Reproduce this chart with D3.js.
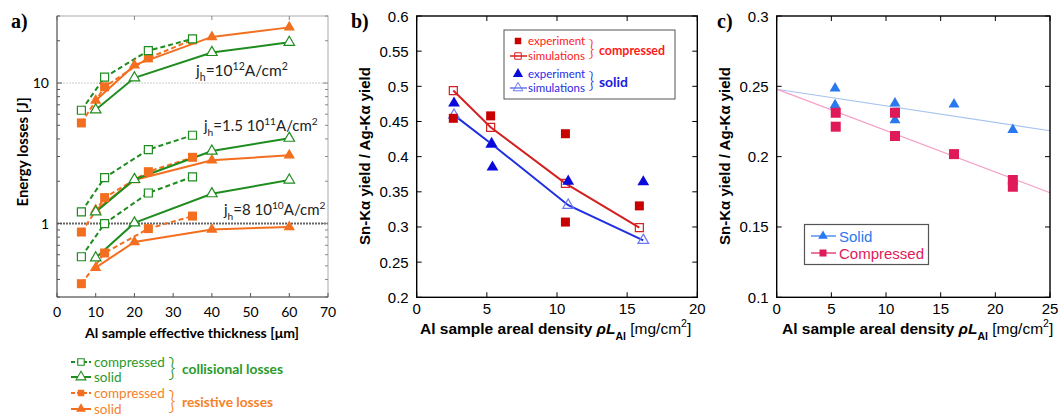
<!DOCTYPE html>
<html><head><meta charset="utf-8">
<script src="https://cdn.jsdelivr.net/npm/d3@7"></script>
<style>body{margin:0;background:#fff} svg{display:block}</style>
</head><body><svg id="fig" width="1058" height="418"></svg>
<script>
// ---- panel a: energy losses vs thickness ----
var thickComp = [6.3, 12.3, 23.6, 35];
var thickSolid = [10, 20, 40, 60];
var collComp12 = [6.4, 11.0, 17.0, 20.6];
var collSolid12 = [6.45, 10.9, 16.5, 19.5];
var resComp12 = [5.2, 9.4, 15.1, 20.3];
var resSolid12 = [7.5, 13.4, 21.3, 24.9];
var collComp15 = [1.21, 2.12, 3.36, 4.25];
var collSolid15 = [1.21, 2.06, 3.28, 4.05];
var resComp15 = [0.87, 1.53, 2.34, 2.96];
var resSolid15 = [1.25, 2.04, 2.82, 3.06];
var collComp8 = [0.58, 1.0, 1.65, 2.15];
var collSolid8 = [0.57, 1.01, 1.63, 2.04];
var resComp8 = [0.373, 0.617, 0.92, 1.13];
var resSolid8 = [0.485, 0.74, 0.906, 0.946];
var xTicksA = [0, 10, 20, 30, 40, 50, 60, 70];
var yLabelsA = [1, 10];

// ---- panel b: Sn/Ag yield ratio, experiment vs simulation ----
var compExpX = [2.61, 5.27, 10.6, 10.6, 15.87];
var compExpY = [0.4545, 0.458, 0.4326, 0.307, 0.330];
var solidExpX = [2.66, 5.34, 5.4, 10.8, 16.15];
var solidExpY = [0.476, 0.418, 0.385, 0.365, 0.364];
var compSimX = [2.61, 5.27, 10.6, 15.87];
var compSimY = [0.494, 0.4417, 0.362, 0.299];
var solidSimX = [2.66, 5.34, 10.8, 16.15];
var solidSimY = [0.459, 0.418, 0.331, 0.281];
var xTicksB = [0, 5, 10, 15, 20];
var yTicksB = [0.2, 0.25, 0.3, 0.35, 0.4, 0.45, 0.5, 0.55, 0.6];

// ---- panel c: yield ratio with linear fits ----
var solidCX = [5.34, 5.34, 10.82, 10.82, 16.22, 21.6];
var solidCY = [0.2486, 0.2367, 0.2379, 0.226, 0.2372, 0.219];
var compCX = [5.4, 5.4, 10.82, 10.82, 16.22, 21.6, 21.6];
var compCY = [0.2312, 0.2213, 0.2312, 0.2147, 0.2018, 0.1834, 0.1786];
var fitSolidC = [[0, 0.2479], [25, 0.2184]];
var fitCompC = [[0, 0.248], [25, 0.1743]];
var xTicksC = [0, 5, 10, 15, 20, 25];
var yTicksC = [0.1, 0.15, 0.2, 0.25, 0.3];

var green = "#1f8c1f", greenTxt = "#2a9a2a", orange = "#f36f1f", orangeTxt = "#f5822a";
var svg = d3.select("#fig");
var sq = d3.symbol().type(d3.symbolSquare), tri = d3.symbol().type(d3.symbolTriangle);

function rich(g, x, y, parts, size, attrs) {
  var t = g.append("text").attr("x", x).attr("y", y).attr("font-size", size);
  for (var k in attrs) t.attr(k, attrs[k]);
  var shift = 0;
  parts.forEach(function(p) {
    var target = p[1] == "sub" ? size * 0.3 : p[1] == "sup" ? -size * 0.38 : 0;
    var s = t.append("tspan").attr("dy", target - shift).text(p[0]);
    if (p[1]) s.attr("font-size", size * 0.68);
    if (p[2]) for (var a in p[2]) s.attr(a, p[2][a]);
    shift = target;
  });
  return t;
}

// ================= panel a =================
(function() {
  var fontA = "Lato, 'Open Sans', sans-serif";
  var x = d3.scaleLinear().domain([0, 70]).range([57, 328]);
  var y = d3.scaleLog().domain([0.3, 30]).range([297, 16]);
  var g = svg.append("g").attr("font-family", fontA);

  // frame
  g.append("rect").attr("x", x(0)).attr("y", y(30)).attr("width", x(70) - x(0)).attr("height", y(0.3) - y(30))
    .attr("fill", "none").attr("stroke", "#aaa").attr("stroke-width", 1);
  g.append("line").attr("x1", x(0)).attr("x2", x(70)).attr("y1", y(10)).attr("y2", y(10))
    .attr("stroke", "#ccc").attr("stroke-dasharray", "2,1");
  g.append("line").attr("x1", x(0)).attr("x2", x(70)).attr("y1", y(1)).attr("y2", y(1))
    .attr("stroke", "#666").attr("stroke-width", 2).attr("stroke-dasharray", "2,1");

  var ticks = y.ticks();
  ticks.forEach(function(v) {
    var len = (v == 1 || v == 10) ? 5 : 3;
    g.append("line").attr("x1", x(0)).attr("x2", x(0) + len).attr("y1", y(v)).attr("y2", y(v)).attr("stroke", "#555");
    g.append("line").attr("x1", x(70)).attr("x2", x(70) - len).attr("y1", y(v)).attr("y2", y(v)).attr("stroke", "#888");
  });
  xTicksA.forEach(function(v) {
    g.append("line").attr("x1", x(v)).attr("x2", x(v)).attr("y1", y(0.3)).attr("y2", y(0.3) - 4).attr("stroke", "#555");
    if (v % 20 == 0) g.append("line").attr("x1", x(v)).attr("x2", x(v)).attr("y1", y(30)).attr("y2", y(30) + 4).attr("stroke", "#888");
    g.append("text").attr("x", x(v)).attr("y", 317).attr("text-anchor", "middle").attr("font-size", 14).text(v);
  });
  g.append("line").attr("x1", x(0)).attr("x2", x(0)).attr("y1", y(30)).attr("y2", y(0.3)).attr("stroke", "#555");
  g.append("line").attr("x1", x(0)).attr("x2", x(70)).attr("y1", y(0.3)).attr("y2", y(0.3)).attr("stroke", "#555");
  yLabelsA.forEach(function(v) {
    g.append("text").attr("x", 49).attr("y", y(v) + 5).attr("text-anchor", "end").attr("font-size", 14).text(v);
  });

  var series = [
    {xs: thickComp, ys: resComp12, c: orange, dash: true, m: sq, fill: orange},
    {xs: thickSolid, ys: resSolid12, c: orange, dash: false, m: tri, fill: orange},
    {xs: thickComp, ys: resComp15, c: orange, dash: true, m: sq, fill: orange},
    {xs: thickSolid, ys: resSolid15, c: orange, dash: false, m: tri, fill: orange},
    {xs: thickComp, ys: resComp8, c: orange, dash: true, m: sq, fill: orange},
    {xs: thickSolid, ys: resSolid8, c: orange, dash: false, m: tri, fill: orange},
    {xs: thickComp, ys: collComp12, c: green, dash: true, m: sq, fill: "#fff"},
    {xs: thickSolid, ys: collSolid12, c: green, dash: false, m: tri, fill: "#fff"},
    {xs: thickComp, ys: collComp15, c: green, dash: true, m: sq, fill: "#fff"},
    {xs: thickSolid, ys: collSolid15, c: green, dash: false, m: tri, fill: "#fff"},
    {xs: thickComp, ys: collComp8, c: green, dash: true, m: sq, fill: "#fff"},
    {xs: thickSolid, ys: collSolid8, c: green, dash: false, m: tri, fill: "#fff"}
  ];
  var line = d3.line().x(function(d) { return x(d[0]); }).y(function(d) { return y(d[1]); });
  series.forEach(function(s) {
    var pts = d3.zip(s.xs, s.ys);
    g.append("path").attr("d", line(pts)).attr("fill", "none").attr("stroke", s.c).attr("stroke-width", 2)
      .attr("stroke-dasharray", s.dash ? "5,3" : null);
  });
  series.forEach(function(s) {
    var pts = d3.zip(s.xs, s.ys);
    var open = s.fill == "#fff";
    g.selectAll(null).data(pts).enter().append("path")
      .attr("d", s.m.size(s.m === sq ? (open ? 64 : 81) : (open ? 48 : 55)))
      .attr("transform", function(d) { return "translate(" + x(d[0]) + "," + y(d[1]) + ")"; })
      .attr("fill", s.fill).attr("stroke", s.c).attr("stroke-width", open ? 1.2 : 0);
  });

  // current density labels
  rich(g, 196, 76, [["j"], ["h", "sub"], ["=10"], ["12", "sup"], ["A/cm"], ["2", "sup"]], 15.5, {fill: "#222"});
  rich(g, 204, 131, [["j"], ["h", "sub"], ["=1.5 10"], ["11", "sup"], ["A/cm"], ["2", "sup"]], 15, {fill: "#222"});
  rich(g, 224, 215, [["j"], ["h", "sub"], ["=8 10"], ["10", "sup"], ["A/cm"], ["2", "sup"]], 15, {fill: "#222"});

  g.append("text").attr("x", 192).attr("y", 338).attr("text-anchor", "middle").attr("font-weight", "bold")
    .attr("font-size", 14).attr("textLength", 214).attr("lengthAdjust", "spacingAndGlyphs").text("Al sample effective thickness [\u03bcm]");
  g.append("text").attr("transform", "translate(28,152) rotate(-90)").attr("text-anchor", "middle").attr("font-weight", "bold")
    .attr("font-size", 15).text("Energy losses [J]");
  g.append("text").attr("x", 11).attr("y", 28).attr("font-family", "'Liberation Serif', serif").attr("font-weight", "bold")
    .attr("font-size", 20).text("a)");

  // legend
  var leg = [
    {y: 362, c: green, t: greenTxt, dash: true, m: sq, fill: "#fff", label: "compressed"},
    {y: 377, c: green, t: greenTxt, dash: false, m: tri, fill: "#fff", label: "solid"},
    {y: 393, c: orange, t: orangeTxt, dash: true, m: sq, fill: orange, label: "compressed"},
    {y: 409, c: orange, t: orangeTxt, dash: false, m: tri, fill: orange, label: "solid"}
  ];
  leg.forEach(function(l) {
    g.append("line").attr("x1", 71).attr("x2", 91).attr("y1", l.y).attr("y2", l.y).attr("stroke", l.c).attr("stroke-width", 2)
      .attr("stroke-dasharray", l.dash ? "4,2" : null);
    var open = l.fill == "#fff";
    g.append("path").attr("d", l.m.size(42)).attr("transform", "translate(81," + l.y + ")")
      .attr("fill", l.fill).attr("stroke", l.c).attr("stroke-width", open ? 1.1 : 0);
    g.append("text").attr("x", 94).attr("y", l.y + 5).attr("fill", l.t).attr("font-size", 13.5).text(l.label);
  });
  [[369, greenTxt, "collisional losses", 101], [402, orangeTxt, "resistive losses", 91]].forEach(function(b) {
    g.append("text").attr("x", 168).attr("y", b[0] + 8).attr("fill", b[1]).attr("font-size", 26).attr("font-weight", 300).text("}");
    g.append("text").attr("x", 182).attr("y", b[0] + 5).attr("fill", b[1]).attr("font-size", 14).attr("font-weight", "bold")
      .attr("textLength", b[3]).attr("lengthAdjust", "spacingAndGlyphs").text(b[2]);
  });
})();

// helpers for b and c
function framed(g, x, y, xt, yt, fmtY) {
  var x0 = x.range()[0], x1 = x.range()[1], y0 = y.range()[0], y1 = y.range()[1];
  xt.forEach(function(v) {
    g.append("line").attr("x1", x(v)).attr("x2", x(v)).attr("y1", y0).attr("y2", y0 - 5).attr("stroke", "#000");
    g.append("line").attr("x1", x(v)).attr("x2", x(v)).attr("y1", y1).attr("y2", y1 + 5).attr("stroke", "#000");
    g.append("text").attr("x", x(v)).attr("y", 314).attr("text-anchor", "middle").attr("font-size", 15).text(v);
  });
  yt.forEach(function(v) {
    g.append("line").attr("x1", x0).attr("x2", x0 + 5).attr("y1", y(v)).attr("y2", y(v)).attr("stroke", "#000");
    g.append("line").attr("x1", x1).attr("x2", x1 - 5).attr("y1", y(v)).attr("y2", y(v)).attr("stroke", "#000");
    g.append("text").attr("x", x0 - 8).attr("y", y(v) + 5.5).attr("text-anchor", "end").attr("font-size", 15).text(fmtY(v));
  });
  g.append("rect").attr("x", x0).attr("y", y1).attr("width", x1 - x0).attr("height", y0 - y1)
    .attr("fill", "none").attr("stroke", "#000").attr("stroke-width", 1.4);
}
function titles(g, cx, ylx, tag, tagX) {
  var t = rich(g, cx, 334, [["Al sample areal density "], ["\u03c1L", "", {"font-style": "italic"}]], 15.5,
    {"font-weight": "bold", "text-anchor": "start"});
  t.append("tspan").attr("dy", 6).attr("font-size", 10.5).text("Al");
  t.append("tspan").attr("dy", -6).attr("font-weight", "normal").text(" [mg/cm");
  t.append("tspan").attr("dy", -7).attr("font-size", 10.5).attr("font-weight", "normal").text("2");
  t.append("tspan").attr("dy", 7).attr("font-weight", "normal").text("]");
  g.append("text").attr("transform", "translate(" + ylx + ",156) rotate(-90)").attr("text-anchor", "middle")
    .attr("font-weight", "bold").attr("font-size", 15).text("Sn-K\u03b1 yield / Ag-K\u03b1 yield");
  g.append("text").attr("x", tagX).attr("y", 28).attr("font-family", "'Liberation Serif', serif").attr("font-weight", "bold")
    .attr("font-size", 20).text(tag);
}

// ================= panel b =================
(function() {
  var x = d3.scaleLinear().domain([0, 20]).range([416.7, 697.3]);
  var y = d3.scaleLinear().domain([0.2, 0.6]).range([297.3, 16]);
  var g = svg.append("g").attr("font-family", "'Liberation Sans', Arial, sans-serif");
  framed(g, x, y, xTicksB, yTicksB, function(v) { return String(+v.toFixed(2)); });
  titles(g, 420, 370, "b)", 351);

  var red = "#c80000", redL = "#d42020", blue = "#0a0adc", blueL = "#1f2fe0";
  var line = d3.line().x(function(d) { return x(d[0]); }).y(function(d) { return y(d[1]); });
  g.append("path").attr("d", line(d3.zip(compSimX, compSimY))).attr("fill", "none").attr("stroke", redL).attr("stroke-width", 2);
  g.append("path").attr("d", line(d3.zip(solidSimX, solidSimY))).attr("fill", "none").attr("stroke", blueL).attr("stroke-width", 2);
  g.selectAll(null).data(d3.zip(compSimX, compSimY)).enter().append("path").attr("d", sq.size(64))
    .attr("transform", function(d) { return "translate(" + x(d[0]) + "," + y(d[1]) + ")"; })
    .attr("fill", "none").attr("stroke", redL).attr("stroke-width", 1.2);
  g.selectAll(null).data(d3.zip(solidSimX, solidSimY)).enter().append("path").attr("d", tri.size(50))
    .attr("transform", function(d) { return "translate(" + x(d[0]) + "," + y(d[1]) + ")"; })
    .attr("fill", "none").attr("stroke", "#6a78f0").attr("stroke-width", 1.2);
  g.selectAll(null).data(d3.zip(compExpX, compExpY)).enter().append("path").attr("d", sq.size(81))
    .attr("transform", function(d) { return "translate(" + x(d[0]) + "," + y(d[1]) + ")"; }).attr("fill", red);
  g.selectAll(null).data(d3.zip(solidExpX, solidExpY)).enter().append("path").attr("d", tri.size(60))
    .attr("transform", function(d) { return "translate(" + x(d[0]) + "," + y(d[1]) + ")"; }).attr("fill", blue);

  // legend
  g.append("rect").attr("x", 504).attr("y", 30).attr("width", 171).attr("height", 69)
    .attr("fill", "#fff").attr("stroke", "#555").attr("stroke-width", 1);
  var rows = [
    {y: 41, col: "#ff2020", mk: sq, s: 42, fill: true, ln: false, label: "experiment", mc: red},
    {y: 56, col: "#ff2020", mk: sq, s: 42, fill: false, ln: true, label: "simulations", mc: redL},
    {y: 74, col: "#2a2ae8", mk: tri, s: 45, fill: true, ln: false, label: "experiment", mc: blue},
    {y: 88, col: "#2a2ae8", mk: tri, s: 40, fill: false, ln: true, label: "simulations", mc: "#6a78f0"}
  ];
  rows.forEach(function(r) {
    if (r.ln) g.append("line").attr("x1", 510).attr("x2", 527).attr("y1", r.y).attr("y2", r.y).attr("stroke", r.mc).attr("stroke-width", 1.5);
    g.append("path").attr("d", r.mk.size(r.s)).attr("transform", "translate(518," + r.y + ")")
      .attr("fill", r.fill ? r.mc : "none").attr("stroke", r.fill ? null : r.mc);
    g.append("text").attr("x", 528).attr("y", r.y + 4).attr("fill", r.col).attr("font-family", "Lato, 'Open Sans', sans-serif")
      .attr("font-size", 11.5).text(r.label);
  });
  [[49, "#ff1a1a", "compressed", 66], [81, "#1a1ae0", "solid", 29]].forEach(function(b) {
    g.append("text").attr("x", 588).attr("y", b[0] + 7).attr("fill", b[1]).attr("font-size", 22).attr("font-family", "Lato, sans-serif")
      .attr("font-weight", 300).text("}");
    g.append("text").attr("x", 599).attr("y", b[0] + 6).attr("fill", b[1]).attr("font-size", 13).attr("font-weight", "bold")
      .attr("font-family", "Lato, 'Open Sans', sans-serif").attr("textLength", b[3]).attr("lengthAdjust", "spacingAndGlyphs").text(b[2]);
  });
})();

// ================= panel c =================
(function() {
  var x = d3.scaleLinear().domain([0, 25]).range([776.7, 1050]);
  var y = d3.scaleLinear().domain([0.1, 0.3]).range([297.3, 16]);
  var g = svg.append("g").attr("font-family", "'Liberation Sans', Arial, sans-serif");
  var blue = "#2a78f0", pink = "#e01a58";
  var line = d3.line().x(function(d) { return x(d[0]); }).y(function(d) { return y(d[1]); });
  g.append("path").attr("d", line(fitSolidC)).attr("stroke", "#a8c4f0").attr("stroke-width", 1.2).attr("fill", "none");
  g.append("path").attr("d", line(fitCompC)).attr("stroke", "#f4a0c8").attr("stroke-width", 1.2).attr("fill", "none");
  framed(g, x, y, xTicksC, yTicksC, function(v) { return String(+v.toFixed(2)); });
  titles(g, 782, 730, "c)", 717);

  g.selectAll(null).data(d3.zip(solidCX, solidCY)).enter().append("path").attr("d", tri.size(52))
    .attr("transform", function(d) { return "translate(" + x(d[0]) + "," + y(d[1]) + ")"; }).attr("fill", blue);
  g.selectAll(null).data(d3.zip(compCX, compCY)).enter().append("path").attr("d", sq.size(100))
    .attr("transform", function(d) { return "translate(" + x(d[0]) + "," + y(d[1]) + ")"; }).attr("fill", pink);

  g.append("rect").attr("x", 804.5).attr("y", 224.5).attr("width", 124).attr("height", 40)
    .attr("fill", "#fff").attr("stroke", "#555").attr("stroke-width", 1.2);
  [[236, blue, tri, 40, "Solid"], [253, pink, sq, 49, "Compressed"]].forEach(function(r) {
    g.append("line").attr("x1", 811).attr("x2", 836).attr("y1", r[0]).attr("y2", r[0]).attr("stroke", r[1]).attr("stroke-width", 1.2);
    g.append("path").attr("d", r[2].size(r[3])).attr("transform", "translate(823," + r[0] + ")").attr("fill", r[1]);
    g.append("text").attr("x", 839).attr("y", r[0] + 5.5).attr("fill", r[1]).attr("font-size", 15).text(r[4]);
  });
})();
</script></body></html>
